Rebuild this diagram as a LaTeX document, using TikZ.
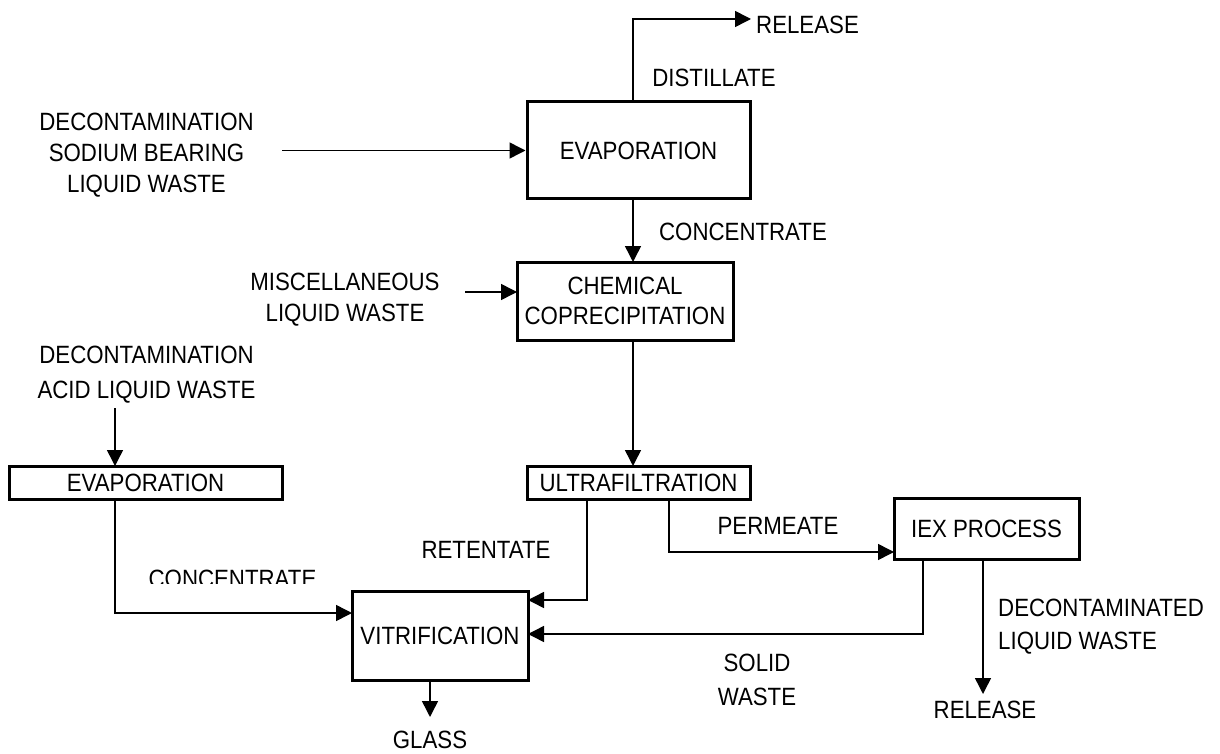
\documentclass[tikz,border=0pt]{standalone}
\usepackage{fontspec}
\setmainfont[FakeStretch=0.89]{Liberation Sans}
\usetikzlibrary{arrows.meta}
\begin{document}
\begin{tikzpicture}[x=1pt,y=-1pt,
 every node/.style={font=\fontsize{25}{31}\selectfont},
 box/.style={draw,line width=3pt,inner sep=0pt,align=center},
 lbl/.style={inner sep=0pt,align=center},
 conn/.style={line width=1.5pt},
 arr/.style={conn,-{Triangle[length=16pt,width=16pt]}}]
\useasboundingbox[fill=white] (0,0) rectangle (1220,754);
% boxes
\node[box,minimum width=223pt,minimum height=97pt] (evap1) at (638.5,150.5) {EVAPORATION};
\node[box,minimum width=216pt,minimum height=78pt,font=\fontsize{25}{30}\selectfont] (chem) at (625,301) {CHEMICAL\\COPRECIPITATION};
\node[box,minimum width=223pt,minimum height=33pt] (ultra) at (638.5,482.5) {ULTRAFILTRATION};
\node[box,minimum width=273pt,minimum height=33pt] (evap2) at (145.5,482.5) {EVAPORATION};
\node[box,minimum width=176pt,minimum height=89pt] (vit) at (440,635.5) {VITRIFICATION};
\node[box,minimum width=185pt,minimum height=61pt] (iex) at (986.5,528.5) {IEX PROCESS};
% labels
\node[lbl,font=\fontsize{25}{31}\selectfont] (in1) at (146.5,155) {DECONTAMINATION\\SODIUM BEARING\\LIQUID WASTE};
\node[lbl] (misc) at (345,300) {MISCELLANEOUS\\LIQUID WASTE};
\node[lbl,font=\fontsize{25}{35}\selectfont] (in2) at (146.5,375) {DECONTAMINATION\\ACID LIQUID WASTE};
\node[lbl,anchor=west] (rel1) at (756,25) {RELEASE};
\node[lbl] (dist) at (714,78) {DISTILLATE};
\node[lbl] (conc1) at (743,232) {CONCENTRATE};
\node[lbl] (perm) at (778,526) {PERMEATE};
\node[lbl] (ret) at (486,550) {RETENTATE};
\node[lbl,font=\fontsize{25}{34}\selectfont] (solid) at (757,680) {SOLID\\WASTE};
\node[lbl,align=left,anchor=west,font=\fontsize{25}{33}\selectfont] (dec) at (998,626.5) {DECONTAMINATED\\LIQUID WASTE};
\node[lbl] (rel2) at (985,710) {RELEASE};
\node[lbl] (glass) at (430,740) {GLASS};
\begin{scope}
\clip (100,540) rectangle (340,583);
\node[lbl] (conc2) at (232.5,579) {CONCENTRATE};
\end{scope}
% coordinates
\coordinate (a1) at (282,150.5);
\coordinate (d0) at (633,102);
\coordinate (d1) at (633,19);
\coordinate (d2) at (751,19);
\coordinate (c0) at (633,199);
\coordinate (c1) at (633,262);
\coordinate (m0) at (465,292);
\coordinate (m1) at (517,292);
\coordinate (u0) at (633,340);
\coordinate (u1) at (633,466);
\coordinate (i0) at (115,408);
\coordinate (i1) at (115,466);
\coordinate (e0) at (115,499);
\coordinate (e1) at (352,613);
\coordinate (r0) at (587,499);
\coordinate (r1) at (528,600);
\coordinate (p0) at (669,499);
\coordinate (p1) at (894,552);
\coordinate (s0) at (923,559);
\coordinate (s1) at (528,634);
\coordinate (x0) at (983,559);
\coordinate (x1) at (983,694);
\coordinate (g0) at (430,680);
\coordinate (g1) at (430,717);
% connectors
\draw[arr] (a1) -- (evap1.west);
\draw[arr] (d0) -- (d1) -- (d2);
\draw[arr] (c0) -- (c1);
\draw[arr] (m0) -- (m1);
\draw[arr] (u0) -- (u1);
\draw[arr] (i0) -- (i1);
\draw[arr] (e0) |- (e1);
\draw[arr] (r0) |- (r1);
\draw[arr] (p0) |- (p1);
\draw[arr] (s0) |- (s1);
\draw[arr] (x0) -- (x1);
\draw[arr] (g0) -- (g1);
\end{tikzpicture}
\end{document}
